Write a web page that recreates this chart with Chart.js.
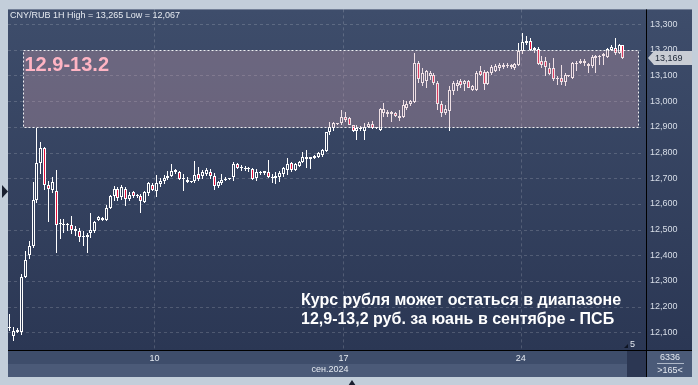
<!DOCTYPE html>
<html>
<head>
<meta charset="utf-8">
<script src="https://cdn.jsdelivr.net/npm/chart.js@4.4.1/dist/chart.umd.min.js"></script>
<style>
  html, body { margin: 0; padding: 0; background: #c3ceda; }
  canvas { display: block; }
</style>
</head>
<body>
<canvas id="grafico" width="698" height="385"></canvas>
<script>
// CNY/RUB, часовые свечи, сентябрь 2024
const opens = [
  12.118, 12.085, 12.102, 12.100, 12.315, 12.403, 12.438, 12.616, 12.758, 12.819,
  12.672, 12.655, 12.651, 12.520, 12.522, 12.518, 12.519, 12.494, 12.494, 12.470,
  12.470, 12.488, 12.494, 12.539, 12.536, 12.539, 12.584, 12.629, 12.657, 12.626,
  12.657, 12.620, 12.645, 12.630, 12.632, 12.609, 12.643, 12.675, 12.649, 12.677,
  12.688, 12.699, 12.710, 12.732, 12.725, 12.697, 12.693, 12.685, 12.688, 12.716,
  12.707, 12.716, 12.726, 12.710, 12.668, 12.680, 12.693, 12.697, 12.706, 12.757,
  12.740, 12.741, 12.737, 12.735, 12.700, 12.719, 12.719, 12.726, 12.706, 12.700,
  12.706, 12.716, 12.732, 12.758, 12.732, 12.749, 12.762, 12.781, 12.774, 12.777,
  12.781, 12.790, 12.807, 12.878, 12.894, 12.911, 12.913, 12.939, 12.935, 12.906,
  12.883, 12.890, 12.884, 12.901, 12.910, 12.895, 12.888, 12.953, 12.949, 12.957,
  12.953, 12.934, 12.940, 12.975, 12.988, 12.996, 13.148, 13.070, 13.077, 13.096,
  13.103, 13.070, 12.988, 12.953, 12.962, 13.040, 13.057, 13.079, 13.066, 13.077,
  13.044, 13.044, 13.116, 13.113, 13.066, 13.109, 13.118, 13.129, 13.131, 13.135,
  13.142, 13.129, 13.142, 13.194, 13.226, 13.235, 13.200, 13.204, 13.157, 13.157,
  13.129, 13.129, 13.090, 13.090, 13.074, 13.097, 13.090, 13.144, 13.148, 13.157,
  13.135, 13.135, 13.168, 13.172, 13.174, 13.170, 13.200, 13.206, 13.187, 13.217
];
const highs = [
  12.171, 12.119, 12.117, 12.326, 12.416, 12.455, 12.685, 12.894, 12.839, 12.822,
  12.690, 12.706, 12.732, 12.542, 12.542, 12.526, 12.552, 12.513, 12.506, 12.496,
  12.487, 12.564, 12.532, 12.553, 12.549, 12.594, 12.633, 12.668, 12.664, 12.672,
  12.664, 12.648, 12.651, 12.639, 12.639, 12.652, 12.684, 12.680, 12.714, 12.699,
  12.712, 12.729, 12.755, 12.735, 12.729, 12.716, 12.706, 12.690, 12.768, 12.742,
  12.732, 12.739, 12.735, 12.719, 12.690, 12.716, 12.703, 12.702, 12.765, 12.761,
  12.752, 12.746, 12.742, 12.739, 12.735, 12.730, 12.730, 12.771, 12.715, 12.726,
  12.728, 12.745, 12.777, 12.762, 12.758, 12.767, 12.803, 12.810, 12.784, 12.790,
  12.803, 12.814, 12.881, 12.917, 12.919, 12.916, 12.965, 12.958, 12.939, 12.909,
  12.906, 12.902, 12.914, 12.917, 12.921, 12.901, 12.973, 12.992, 12.966, 12.962,
  12.959, 12.966, 13.005, 12.999, 13.003, 13.187, 13.157, 13.129, 13.123, 13.116,
  13.109, 13.077, 12.999, 12.986, 13.057, 13.077, 13.083, 13.087, 13.083, 13.083,
  13.064, 13.116, 13.135, 13.122, 13.116, 13.139, 13.144, 13.148, 13.148, 13.148,
  13.146, 13.148, 13.226, 13.265, 13.252, 13.245, 13.209, 13.209, 13.174, 13.170,
  13.148, 13.168, 13.096, 13.142, 13.109, 13.103, 13.152, 13.157, 13.165, 13.165,
  13.148, 13.178, 13.181, 13.181, 13.187, 13.206, 13.219, 13.245, 13.222, 13.219
];
const lows = [
  12.106, 12.067, 12.096, 12.091, 12.313, 12.384, 12.429, 12.603, 12.715, 12.655,
  12.530, 12.642, 12.410, 12.465, 12.487, 12.494, 12.483, 12.477, 12.451, 12.435,
  12.410, 12.467, 12.488, 12.532, 12.532, 12.535, 12.581, 12.612, 12.612, 12.616,
  12.590, 12.610, 12.623, 12.623, 12.564, 12.603, 12.632, 12.649, 12.628, 12.667,
  12.677, 12.693, 12.703, 12.716, 12.693, 12.649, 12.683, 12.682, 12.683, 12.690,
  12.697, 12.710, 12.697, 12.654, 12.662, 12.675, 12.688, 12.694, 12.688, 12.735,
  12.729, 12.729, 12.726, 12.693, 12.690, 12.713, 12.713, 12.700, 12.681, 12.677,
  12.687, 12.706, 12.713, 12.726, 12.728, 12.745, 12.758, 12.739, 12.736, 12.774,
  12.777, 12.784, 12.803, 12.870, 12.883, 12.909, 12.909, 12.919, 12.906, 12.878,
  12.848, 12.884, 12.850, 12.896, 12.892, 12.893, 12.884, 12.940, 12.940, 12.918,
  12.938, 12.921, 12.934, 12.966, 12.980, 12.992, 13.070, 13.057, 13.053, 13.083,
  13.064, 12.966, 12.940, 12.947, 12.884, 13.022, 13.038, 13.053, 13.038, 13.051,
  13.038, 13.038, 13.096, 13.044, 13.064, 13.103, 13.112, 13.116, 13.126, 13.129,
  13.126, 13.122, 13.135, 13.183, 13.219, 13.194, 13.187, 13.142, 13.129, 13.096,
  13.103, 13.079, 13.061, 13.064, 13.057, 13.094, 13.087, 13.118, 13.144, 13.135,
  13.109, 13.129, 13.109, 13.140, 13.140, 13.168, 13.194, 13.181, 13.183, 13.165
];
const closes = [
  12.122, 12.106, 12.110, 12.315, 12.380, 12.438, 12.616, 12.758, 12.819, 12.672,
  12.657, 12.687, 12.519, 12.524, 12.518, 12.522, 12.500, 12.502, 12.470, 12.474,
  12.479, 12.497, 12.528, 12.548, 12.544, 12.584, 12.629, 12.657, 12.623, 12.664,
  12.620, 12.633, 12.632, 12.634, 12.610, 12.645, 12.680, 12.655, 12.680, 12.690,
  12.701, 12.710, 12.729, 12.724, 12.697, 12.700, 12.685, 12.688, 12.714, 12.697,
  12.723, 12.732, 12.710, 12.671, 12.684, 12.694, 12.697, 12.700, 12.757, 12.739,
  12.744, 12.737, 12.741, 12.697, 12.726, 12.726, 12.727, 12.706, 12.700, 12.710,
  12.719, 12.741, 12.754, 12.732, 12.754, 12.765, 12.784, 12.774, 12.781, 12.785,
  12.797, 12.810, 12.878, 12.900, 12.913, 12.914, 12.939, 12.926, 12.909, 12.883,
  12.894, 12.897, 12.901, 12.910, 12.897, 12.899, 12.970, 12.970, 12.957, 12.949,
  12.943, 12.944, 12.986, 12.988, 12.999, 13.148, 13.087, 13.109, 13.116, 13.109,
  13.070, 12.988, 12.953, 12.970, 13.044, 13.070, 13.070, 13.064, 13.079, 13.053,
  13.057, 13.109, 13.103, 13.066, 13.113, 13.131, 13.135, 13.139, 13.142, 13.142,
  13.131, 13.144, 13.196, 13.230, 13.235, 13.200, 13.206, 13.144, 13.142, 13.131,
  13.105, 13.087, 13.087, 13.074, 13.100, 13.100, 13.148, 13.148, 13.157, 13.148,
  13.146, 13.170, 13.174, 13.176, 13.183, 13.204, 13.209, 13.187, 13.217, 13.169
];

const yTicks = [12.1, 12.2, 12.3, 12.4, 12.5, 12.6, 12.7, 12.8, 12.9, 13.0, 13.1, 13.2, 13.3];
// начало торговых дней (позиция по номеру свечи)
const dayTicks = [
  { at: 37.5, label: '10' },
  { at: 86.5, label: '17' },
  { at: 132.5, label: '24' }
];
const monthLabel = 'сен.2024';
const range = { from: 3.5, to: 163, low: 12.9, high: 13.2, label: '12.9-13.2' };
const title = 'CNY/RUB 1H High = 13,265 Low = 12,067';
const caption = ['Курс рубля может остаться в диапазоне', '12,9-13,2 руб. за юань в сентябре - ПСБ'];
const volumeBox = ['6336', '>165<'];
const barsLeft = '5';

const FONT = '"Liberation Sans", Arial, sans-serif';
const fmt = v => v.toFixed(3).replace('.', ',');

const bodyColors = opens.map((o, i) => closes[i] < o ? '#e3103c' : '#303c58');

function line(ctx, x1, y1, x2, y2) {
  ctx.beginPath();
  ctx.moveTo(x1, y1);
  ctx.lineTo(x2, y2);
  ctx.stroke();
}

// подгонка свечей к пиксельной сетке, чтобы не было размытия
const snap = {
  id: 'snap',
  afterDatasetsUpdate(chart) {
    chart.data.datasets.forEach((ds, di) => {
      chart.getDatasetMeta(di).data.forEach(el => {
        el.x = Math.round(el.x - 0.5) + 0.5;
        let top = Math.round(Math.min(el.y, el.base));
        let bot = Math.round(Math.max(el.y, el.base));
        if (bot - top < 1) bot = top + 1;
        el.y = top;
        el.base = bot;
        el.height = bot - top;
      });
    });
  }
};

const decor = {
  id: 'decor',
  beforeDraw(chart) {
    const { ctx, chartArea: a } = chart;
    const right = chart.width - 6;
    ctx.save();
    ctx.fillStyle = '#c3ceda';
    ctx.fillRect(0, 0, chart.width, chart.height);

    // фон графика и правой шкалы
    const g = ctx.createLinearGradient(0, a.top, 0, a.bottom);
    g.addColorStop(0, '#3e4d6b');
    g.addColorStop(1, '#2b3754');
    ctx.fillStyle = g;
    ctx.fillRect(a.left, a.top, right - a.left, a.bottom - a.top);

    // панель времени
    ctx.fillStyle = '#3e4d6b';
    ctx.fillRect(a.left, a.bottom, a.right - a.left, 14);
    ctx.fillStyle = '#4b5a78';
    ctx.fillRect(a.left, a.bottom + 14, a.right - a.left, 13);
    ctx.fillStyle = '#2c3753';
    ctx.fillRect(a.right - 19, a.bottom + 1, 19, 26);
    ctx.fillStyle = '#4a5a78';
    ctx.fillRect(a.right, a.bottom, right - a.right, 27);
    ctx.restore();
  },
  beforeDatasetsDraw(chart) {
    const { ctx, chartArea: a, scales: { x, y } } = chart;
    ctx.save();
    ctx.strokeStyle = 'rgba(255,255,255,0.17)';
    ctx.lineWidth = 1;
    ctx.setLineDash([3, 3]);
    yTicks.forEach(v => {
      const py = Math.round(y.getPixelForValue(v)) + 0.5;
      line(ctx, a.left, py, a.right - 3, py);
    });
    dayTicks.forEach(d => {
      const px = Math.round(x.getPixelForValue(d.at)) + 0.5;
      line(ctx, px, a.top, px, a.bottom);
    });
    ctx.restore();
  },
  afterDatasetsDraw(chart) {
    const { ctx, chartArea: a, scales: { x, y } } = chart;
    const right = chart.width - 6;
    ctx.save();

    // диапазон 12.9-13.2
    const x1 = Math.round(x.getPixelForValue(range.from)) + 0.5;
    const x2 = Math.round(x.getPixelForValue(range.to)) + 0.5;
    const y1 = Math.round(y.getPixelForValue(range.high)) + 0.5;
    const y2 = Math.round(y.getPixelForValue(range.low)) + 0.5;
    ctx.fillStyle = 'rgba(205,160,175,0.33)';
    ctx.fillRect(x1, y1, x2 - x1, y2 - y1);
    ctx.setLineDash([2, 2]);
    ctx.strokeStyle = 'rgba(255,255,255,0.9)';
    ctx.strokeRect(x1, y1, x2 - x1, y2 - y1);
    ctx.setLineDash([]);
    ctx.fillStyle = '#ffb4c3';
    ctx.font = 'bold 20px ' + FONT;
    ctx.textBaseline = 'middle';
    ctx.fillText(range.label, x1 + 1, y1 + 15);

    // рамки
    ctx.strokeStyle = '#000';
    line(ctx, a.right + 0.5, a.top, a.right + 0.5, a.bottom + 27);
    line(ctx, a.left, a.bottom + 0.5, right, a.bottom + 0.5);

    // заголовок
    ctx.fillStyle = '#e6eaf0';
    ctx.font = '9px ' + FONT;
    ctx.textBaseline = 'alphabetic';
    ctx.fillText(title, a.left + 2, 17.5);

    // подпись
    ctx.fillStyle = '#ffffff';
    ctx.font = 'bold 16px ' + FONT;
    ctx.fillText(caption[0], 301, 305);
    ctx.fillText(caption[1], 301, 324);

    // метка последней цены
    const last = closes[closes.length - 1];
    const py = Math.round(y.getPixelForValue(last));
    ctx.fillStyle = '#c9cdd4';
    ctx.beginPath();
    ctx.moveTo(a.right + 2, py);
    ctx.lineTo(a.right + 8, py - 7);
    ctx.lineTo(right, py - 7);
    ctx.lineTo(right, py + 7);
    ctx.lineTo(a.right + 8, py + 7);
    ctx.closePath();
    ctx.fill();
    ctx.fillStyle = '#1c2636';
    ctx.font = '9px ' + FONT;
    ctx.textBaseline = 'middle';
    ctx.fillText(fmt(last), a.right + 9, py + 0.5);

    // месяц, объём, счётчик
    ctx.fillStyle = '#e4e9f0';
    ctx.textAlign = 'center';
    ctx.fillText(monthLabel, (a.left + a.right) / 2 + 3, a.bottom + 20);
    const cx = (a.right + right) / 2 + 1;
    ctx.fillText(volumeBox[0], cx, a.bottom + 8);
    ctx.fillText(volumeBox[1], cx, a.bottom + 21);
    ctx.strokeStyle = '#aeb8c8';
    line(ctx, cx - 13, a.bottom + 13.5, cx + 14, a.bottom + 13.5);
    ctx.textAlign = 'left';
    ctx.fillText(barsLeft, a.right - 16, a.bottom - 5);
    ctx.fillStyle = '#0e1422';
    ctx.beginPath();
    ctx.moveTo(a.right - 22, a.bottom - 2);
    ctx.lineTo(a.right - 18, a.bottom - 6);
    ctx.lineTo(a.right - 18, a.bottom - 2);
    ctx.fill();

    // маркеры рамки
    ctx.fillStyle = '#1a2030';
    ctx.beginPath();
    ctx.moveTo(2, 185);
    ctx.lineTo(8, 191.5);
    ctx.lineTo(2, 198);
    ctx.fill();
    ctx.beginPath();
    ctx.moveTo(348, 386);
    ctx.lineTo(352, 380);
    ctx.lineTo(356, 386);
    ctx.fill();
    ctx.restore();
  }
};

Chart.defaults.font.family = FONT;

new Chart(document.getElementById('grafico'), {
  type: 'bar',
  data: {
    datasets: [
      {
        label: 'тени',
        data: lows.map((l, i) => ({ x: i, y: [l, highs[i]] })),
        backgroundColor: '#ffffff',
        borderWidth: 0,
        barThickness: 1,
        grouped: false,
        inflateAmount: 0,
        order: 2
      },
      {
        label: 'тела',
        data: opens.map((o, i) => ({ x: i, y: [o, closes[i]] })),
        backgroundColor: bodyColors,
        borderColor: '#ffffff',
        borderWidth: 1,
        borderSkipped: false,
        barThickness: 3,
        grouped: false,
        inflateAmount: 0,
        order: 1
      }
    ]
  },
  options: {
    responsive: false,
    animation: false,
    layout: { padding: { left: 8, top: 8, right: 6, bottom: 8 } },
    plugins: { legend: { display: false }, tooltip: { enabled: false } },
    scales: {
      x: {
        type: 'linear',
        offset: false,
        min: -0.5,
        max: 165,
        grid: { display: false, drawTicks: false, offset: false },
        border: { display: false },
        afterBuildTicks: s => { s.ticks = dayTicks.map(d => ({ value: d.at })); },
        afterFit: s => { s.height = 27; },
        ticks: {
          autoSkip: false,
          maxRotation: 0,
          padding: 3,
          color: '#e4e9f0',
          font: { size: 9 },
          callback: (v, i) => dayTicks[i] ? dayTicks[i].label : ''
        }
      },
      y: {
        position: 'right',
        min: 12.0314,
        max: 13.357,
        grid: { display: false, drawTicks: false },
        border: { display: false },
        afterBuildTicks: s => { s.ticks = yTicks.map(v => ({ value: v })); },
        afterFit: s => { s.width = 46; },
        ticks: {
          padding: 4,
          color: '#d8dee8',
          font: { size: 9 },
          callback: v => fmt(v)
        }
      }
    }
  },
  plugins: [snap, decor]
});
</script>
</body>
</html>
